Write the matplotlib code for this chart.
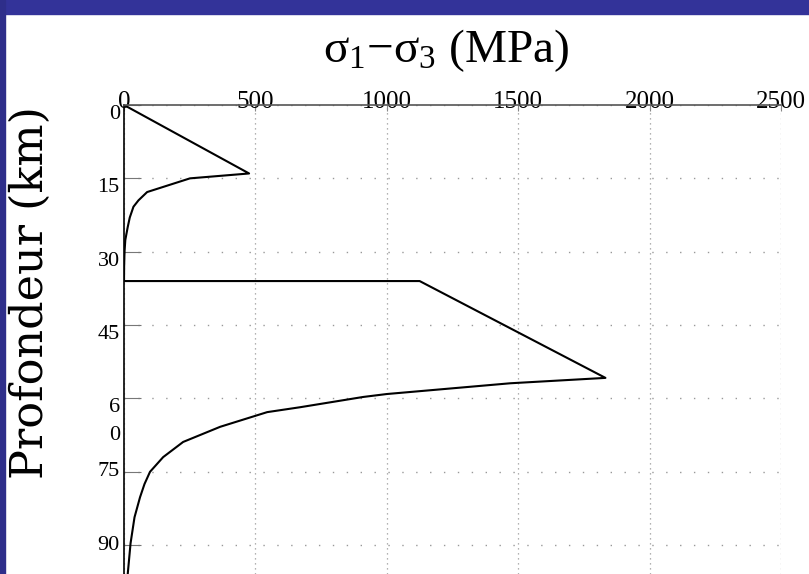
import numpy as np
import matplotlib
import matplotlib.pyplot as plt
from matplotlib.patches import Rectangle

matplotlib.use('Agg')

# Profil de résistance (différence de contraintes) en fonction de la profondeur
depth = [0, 14, 15, 17.8, 19.5, 20.8, 23, 25, 27.6, 30, 33, 36,
         36, 55.8, 56.9, 59.1, 59.7, 61.8, 62.8, 65.8, 68.9, 72, 75,
         77.5, 80.2, 84.3, 89.6, 96]
stress = [0, 476, 251, 88, 55, 36, 22, 14, 5, 2, 0.5, 0,
          1125, 1832, 1470, 1000, 910, 670, 545, 366, 225, 149, 99,
          78, 61, 40, 25, 14]

x_ticks = [0, 500, 1000, 1500, 2000, 2500]
x_labels = ['0', '500', '1000', '1500', '2000', '2500']
y_ticks = [0, 15, 30, 45, 60, 75, 90]
y_labels = ['0', '15', '30', '45', '6\n0', '75', '90']

plt.rcParams['mathtext.fontset'] = 'custom'
plt.rcParams['mathtext.rm'] = 'Liberation Serif'
plt.rcParams['mathtext.it'] = 'Liberation Serif'

fig = plt.figure(figsize=(8.09, 5.74), dpi=100)
fig.patch.set_facecolor('white')

# cadre bleu de la diapositive
fig.patches.append(Rectangle((0, 1 - 14 / 574), 1, 14 / 574, transform=fig.transFigure,
                             color='#333399', zorder=0))
fig.patches.append(Rectangle((0, 0), 5 / 809, 1, transform=fig.transFigure,
                             color='#2e2e8a', zorder=0))

ax = fig.add_axes([124 / 809, 0, (781 - 124) / 809, 1 - 105 / 574])
ax.plot(stress, depth, color='black', linewidth=1.5)

ax.set_xlim(0, 2500)
ax.set_ylim(95.9, 0)

ax.xaxis.tick_top()
ax.set_xticks(x_ticks)
ax.set_xticklabels(x_labels, family='Liberation Serif', fontsize=18)
ax.set_yticks(y_ticks)
ax.set_yticklabels(y_labels, family='Liberation Serif', fontsize=16, linespacing=1.6)
for lbl, t in zip(ax.get_yticklabels(), y_ticks):
    lbl.set_va('top' if t in (0, 15, 30, 45, 60) else 'center')

ax.tick_params(axis='x', direction='in', length=4, color='#888888', pad=-6)
ax.tick_params(axis='y', direction='in', length=12, color='#777777', pad=3)

# pointillés : serrés pour les verticales, espacés pour les horizontales
ax.xaxis.grid(True, linestyle=(0, (1, 3)), color='#999999', linewidth=0.9)
ax.yaxis.grid(True, linestyle=(0, (1, 9)), color='#999999', linewidth=1.0)

for side in ['right', 'bottom']:
    ax.spines[side].set_visible(False)
ax.spines['left'].set_color('black')
ax.spines['left'].set_linewidth(1.2)
ax.spines['top'].set_color('#555555')
ax.spines['top'].set_linewidth(1.2)

fig.text(446 / 809, 1 - 62 / 574, r'$\mathrm{\sigma_1{-}\sigma_3\ (MPa)}$',
         ha='center', va='baseline', fontsize=34)
fig.text(30 / 809, 1 - 293 / 574, 'Profondeur (km)', family='DejaVu Serif',
         rotation=90, ha='center', va='center', fontsize=32)

fig.savefig('out.png', dpi=100)
